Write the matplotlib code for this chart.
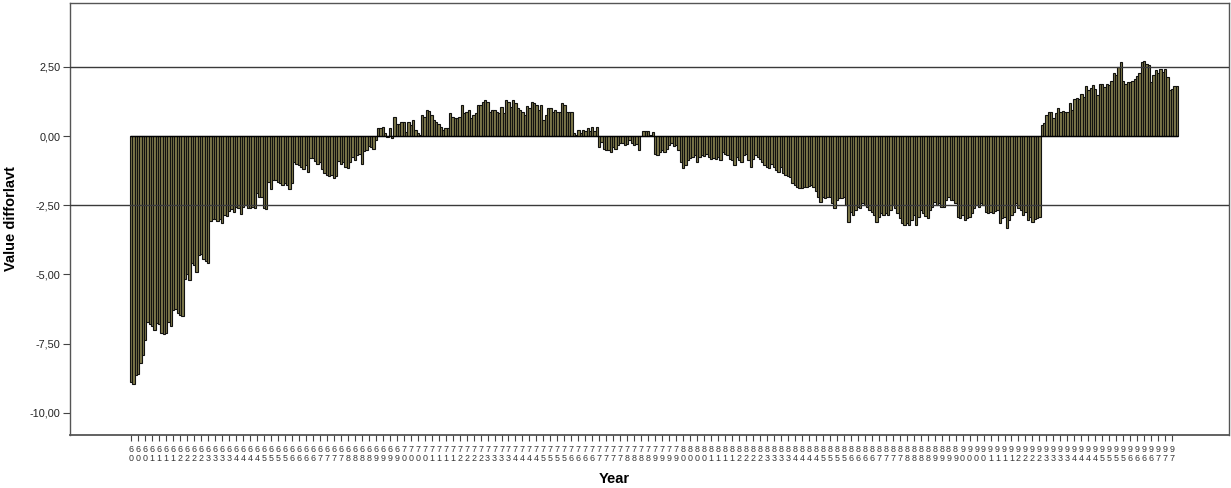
import matplotlib
matplotlib.use("Agg")
import matplotlib.pyplot as plt
import numpy as np

plt.rcParams['font.family'] = ['Liberation Sans', 'DejaVu Sans']

# Monthly series, April 1960 .. September 1997
start_year = 1960
start_month = 4
values = [
    # 1960 (Apr-Dec)
    -8.9, -8.95, -8.65, -8.6, -8.2, -7.9, -7.35, -6.7, -6.8,
    # 1961
    -6.85, -7.0, -6.75, -6.8, -7.1, -7.15, -7.1, -6.7, -6.85, -6.3, -6.25, -6.4,
    # 1962
    -6.45, -6.5, -5.15, -5.0, -5.2, -4.6, -4.65, -4.9, -4.3, -4.25, -4.45, -4.5,
    # 1963
    -4.6, -3.05, -3.0, -3.0, -3.05, -3.0, -3.15, -2.85, -2.9, -2.7, -2.65, -2.75,
    # 1964
    -2.55, -2.6, -2.8, -2.55, -2.5, -2.6, -2.6, -2.55, -2.6, -2.05, -2.2, -2.2,
    # 1965
    -2.6, -2.65, -1.65, -1.9, -1.6, -1.6, -1.65, -1.7, -1.75, -1.7, -1.75, -1.9,
    # 1966
    -1.7, -0.95, -1.0, -1.05, -1.1, -1.2, -1.05, -1.3, -0.8, -0.8, -0.9, -1.0,
    # 1967
    -0.95, -1.2, -1.35, -1.4, -1.45, -1.4, -1.5, -1.45, -0.9, -1.0, -0.95, -1.1,
    # 1968
    -1.15, -0.95, -0.75, -0.85, -0.7, -0.65, -1.0, -0.55, -0.5, -0.35, -0.4, -0.45,
    # 1969
    -0.15, 0.28, 0.3, 0.34, 0.1, -0.05, 0.28, -0.08, 0.7, 0.45, 0.45, 0.52,
    # 1970
    0.52, 0.16, 0.5, 0.4, 0.58, 0.22, 0.1, 0.04, 0.76, 0.7, 0.94, 0.9,
    # 1971
    0.76, 0.58, 0.52, 0.45, 0.34, 0.22, 0.28, 0.28, 0.82, 0.7, 0.64, 0.66,
    # 1972
    0.7, 1.13, 0.82, 0.88, 0.94, 0.65, 0.76, 0.82, 1.13, 1.13, 1.24, 1.3,
    # 1973
    1.24, 0.88, 0.96, 0.94, 0.88, 0.82, 1.06, 0.82, 1.3, 1.24, 1.06, 1.3,
    # 1974
    1.18, 1.0, 0.94, 0.88, 0.76, 1.1, 1.0, 1.24, 1.18, 1.13, 0.94, 1.13,
    # 1975
    0.58, 0.76, 1.0, 1.0, 0.88, 0.94, 0.88, 0.88, 1.18, 1.13, 0.88, 0.88,
    # 1976
    0.88, 0.1, 0.04, 0.22, 0.1, 0.22, 0.19, 0.28, 0.19, 0.34, 0.19, 0.34,
    # 1977
    -0.38, -0.2, -0.45, -0.5, -0.5, -0.57, -0.38, -0.45, -0.32, -0.26, -0.26, -0.32,
    # 1978
    -0.3, -0.14, -0.26, -0.32, -0.27, -0.5, 0.02, 0.19, 0.19, 0.19, 0.04, 0.14,
    # 1979
    -0.63, -0.68, -0.57, -0.5, -0.57, -0.45, -0.33, -0.24, -0.36, -0.33, -0.5, -0.93,
    # 1980
    -1.17, -1.05, -0.87, -0.8, -0.75, -0.68, -0.93, -0.75, -0.68, -0.72, -0.63, -0.75,
    # 1981
    -0.81, -0.78, -0.81, -0.75, -0.87, -0.57, -0.63, -0.7, -0.81, -0.87, -1.05, -0.75,
    # 1982
    -0.87, -0.93, -0.68, -0.63, -0.87, -1.11, -0.81, -0.68, -0.75, -0.81, -0.93, -1.05,
    # 1983
    -1.11, -1.17, -0.99, -1.11, -1.23, -1.29, -1.11, -1.35, -1.41, -1.44, -1.47, -1.71,
    # 1984
    -1.77, -1.83, -1.89, -1.89, -1.85, -1.83, -1.8, -1.77, -1.83, -2.0, -2.2, -2.37,
    # 1985
    -2.2, -2.25, -2.2, -2.2, -2.43, -2.61, -2.31, -2.25, -2.25, -2.2, -2.49, -3.09,
    # 1986
    -2.73, -2.85, -2.67, -2.55, -2.61, -2.43, -2.49, -2.55, -2.67, -2.73, -2.85, -3.09,
    # 1987
    -2.91, -2.79, -2.85, -2.79, -2.85, -2.67, -2.49, -2.6, -2.79, -2.97, -3.15, -3.21,
    # 1988
    -3.15, -3.21, -3.03, -2.85, -3.21, -2.91, -2.67, -2.79, -2.88, -2.97, -2.67, -2.55,
    # 1989
    -2.37, -2.49, -2.43, -2.55, -2.55, -2.31, -2.2, -2.31, -2.31, -2.43, -2.91, -2.97,
    # 1990
    -2.85, -3.03, -2.95, -2.91, -2.79, -2.61, -2.49, -2.55, -2.43, -2.49, -2.73, -2.79,
    # 1991
    -2.73, -2.79, -2.72, -2.67, -3.15, -2.97, -2.91, -3.33, -3.03, -2.85, -2.73, -2.43,
    # 1992
    -2.61, -2.67, -2.85, -2.73, -3.03, -2.91, -3.09, -3.0, -2.97, -2.91, 0.4, 0.46,
    # 1993
    0.76, 0.88, 0.88, 0.64, 0.82, 1.03, 0.88, 0.9, 0.88, 0.88, 1.21, 0.94,
    # 1994
    1.33, 1.36, 1.34, 1.51, 1.42, 1.82, 1.66, 1.75, 1.84, 1.72, 1.48, 1.88,
    # 1995
    1.9, 1.78, 1.9, 1.84, 2.0, 2.27, 2.21, 2.51, 2.69, 1.99, 1.9, 1.96,
    # 1996
    1.96, 1.99, 2.08, 2.18, 2.27, 2.69, 2.72, 2.6, 2.57, 1.96, 2.21, 2.39,
    # 1997 (Jan-Sep)
    2.27, 2.42, 2.3, 2.42, 2.15, 1.66, 1.72, 1.8, 1.8,
]

ytick_values = [2.5, 0.0, -2.5, -5.0, -7.5, -10.0]
ytick_labels = ['2,50', '0,00', '-2,50', '-5,00', '-7,50', '-10,00']
ref_lines = [2.5, -2.5]
label_every = 3

n = len(values)
years_of_bar = [start_year + (start_month - 1 + i) // 12 for i in range(n)]
tick_pos = list(range(0, n, label_every))
tick_labels = ['{}\n{}'.format(*str(years_of_bar[i] % 100).zfill(2)) for i in tick_pos]

W, H = 1231, 488
fig = plt.figure(figsize=(W / 100, H / 100), dpi=100)
ax = fig.add_axes([70 / W, 53 / H, (1229 - 70) / W, (435 - 3) / H])

x = np.arange(n)
ax.bar(x, values, width=1.0, color='#807a4c', edgecolor='#121210', linewidth=0.8, zorder=2)
ax.hlines(0, -0.5, n - 0.5, color='black', linewidth=1.0, zorder=3)
for r in ref_lines:
    ax.axhline(r, color='#3a3a3a', linewidth=1.0, zorder=4)

ax.set_xlim(-26.3, 471.4)
ax.set_ylim(-10.8, 4.81)

ax.set_yticks(ytick_values)
ax.set_yticklabels(ytick_labels, fontsize=7.8, color='#222222')
ax.set_xticks(tick_pos)
ax.set_xticklabels(tick_labels, fontsize=6.4, color='#333333', linespacing=1.05)
ax.tick_params(axis='y', direction='out', length=5, width=0.8, color='#444444', pad=2)
ax.tick_params(axis='x', direction='out', length=4, width=0.8, color='#444444', pad=3)

for s in ax.spines.values():
    s.set_color('#555555')
    s.set_linewidth(1.0)
ax.spines['bottom'].set_linewidth(1.3)

ax.set_ylabel('Value difforlavt', fontsize=10.5, fontweight='bold', labelpad=8)
ax.set_xlabel('Year', fontsize=10.5, fontweight='bold', labelpad=3)
ax.xaxis.set_label_coords((614 - 70) / (1229 - 70), -0.085)

fig.savefig('out.png', dpi=100, facecolor='white')
